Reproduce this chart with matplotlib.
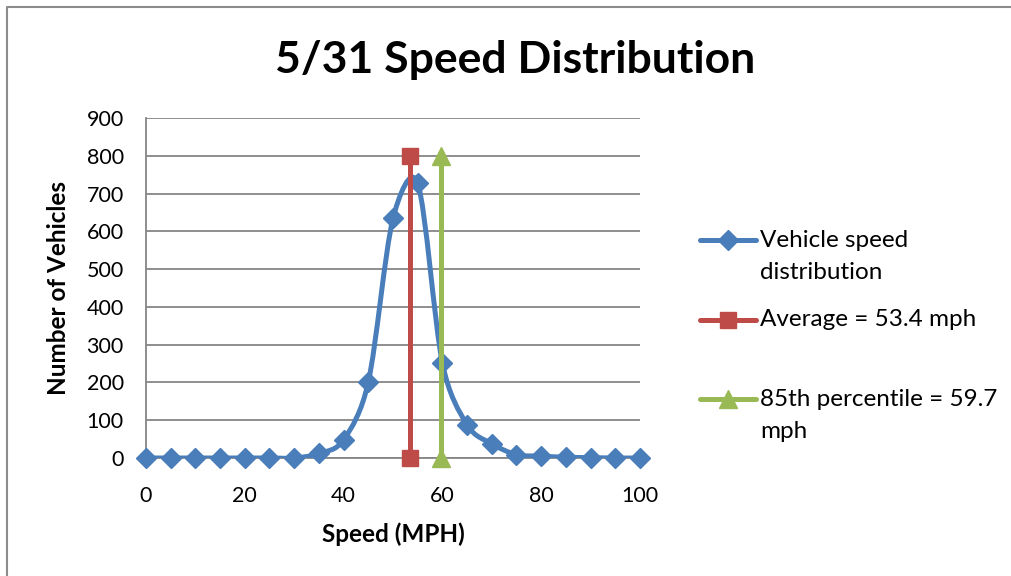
import math
import matplotlib
matplotlib.use("Agg")
from matplotlib import pyplot as plt
from matplotlib.path import Path
from matplotlib.patches import PathPatch
from matplotlib.lines import Line2D

plt.rcParams['font.family'] = ['Lato', 'DejaVu Sans']

speeds = [0, 5, 10, 15, 20, 25, 30, 35, 40, 45, 50, 55, 60, 65, 70, 75, 80, 85, 90, 95, 100]
vehicles = [0, 0, 0, 0, 0, 0, 0, 12, 48, 201, 634, 727, 251, 88, 38, 9, 5, 2, 1, 0, 0]
avg_x = [53.4, 53.4]
avg_y = [0, 800]
p85_x = [59.7, 59.7]
p85_y = [0, 800]
labels = ["Vehicle speed\ndistribution", "Average = 53.4 mph", "85th percentile = 59.7\nmph"]

BLUE = "#4A7EBB"
RED = "#BE4B48"
GREEN = "#98B954"
GRID = "#868686"


def smooth_path(ax, xs, ys):
    # bezier segments in screen space, control arms capped at half the
    # segment length (like the spreadsheet's "smoothed line")
    pts = [tuple(p) for p in ax.transData.transform(list(zip(xs, ys)))]
    n = len(pts)

    def dist(a, b):
        return math.hypot(b[0] - a[0], b[1] - a[1])

    verts = [pts[0]]
    codes = [Path.MOVETO]
    for i in range(n - 1):
        p0 = pts[max(i - 1, 0)]
        p1 = pts[i]
        p2 = pts[i + 1]
        p3 = pts[min(i + 2, n - 1)]
        d12 = dist(p1, p2)
        d02 = dist(p0, p2)
        d13 = dist(p1, p3)
        f0 = 1 / 6 if d02 / 6 <= d12 / 2 else d12 / (2 * d02)
        f1 = 1 / 6 if d13 / 6 <= d12 / 2 else d12 / (2 * d13)
        c1 = (p1[0] + (p2[0] - p0[0]) * f0, p1[1] + (p2[1] - p0[1]) * f0)
        c2 = (p2[0] - (p3[0] - p1[0]) * f1, p2[1] - (p3[1] - p1[1]) * f1)
        verts += [c1, c2, p2]
        codes += [Path.CURVE4] * 3
    verts = ax.transData.inverted().transform(verts)
    return Path(verts, codes)


fig = plt.figure(figsize=(10.12, 5.76), dpi=100)
ax = fig.add_axes([146 / 1012, 118 / 576, 494 / 1012, 340 / 576])
ax.set_xlim(0, 100)
ax.set_ylim(0, 900)

ax.add_patch(PathPatch(smooth_path(ax, speeds, vehicles), facecolor="none",
                       edgecolor=BLUE, lw=3.6, capstyle="round", zorder=3))
ax.plot(speeds, vehicles, ls="none", marker="D", ms=10, color=BLUE, zorder=4, clip_on=False)
ax.plot(avg_x, avg_y, color=RED, lw=3.6, marker="s", ms=12, zorder=5, clip_on=False)
ax.plot(p85_x, p85_y, color=GREEN, lw=3.6, marker="^", ms=13, zorder=5, clip_on=False)

ax.set_xticks(range(0, 101, 20))
ax.set_yticks(range(0, 901, 100))
ax.grid(axis="y", color=GRID, lw=1.3)
ax.set_axisbelow(True)
for s in ["top", "right"]:
    ax.spines[s].set_visible(False)
for s in ["left", "bottom"]:
    ax.spines[s].set_color(GRID)
    ax.spines[s].set_linewidth(1.3)
ax.tick_params(length=0, labelsize=15.5)
ax.tick_params(axis="y", pad=16)
ax.tick_params(axis="x", pad=20)

ax.set_xlabel("Speed (MPH)", fontsize=17.5, fontweight="bold", labelpad=12)
ax.set_ylabel("Number of Vehicles", fontsize=17.5, fontweight="bold", labelpad=12)
fig.text(515 / 1012, 1 - 60 / 576, "5/31 Speed Distribution", fontsize=32,
         fontweight="bold", ha="center", va="center")

# legend drawn by hand so the handles sit on the first text line
legend_rows = [(240, BLUE, "D", 10), (320, RED, "s", 12), (399, GREEN, "^", 13)]
for (ypx, col, mk, ms), lab in zip(legend_rows, labels):
    y = 1 - ypx / 576
    fig.add_artist(Line2D([700 / 1012, 756 / 1012], [y, y], color=col, lw=3.6,
                          solid_capstyle="round", transform=fig.transFigure))
    fig.add_artist(Line2D([728 / 1012], [y], color=col, marker=mk, ms=ms,
                          transform=fig.transFigure))
    for k, line in enumerate(lab.split("\n")):
        fig.text(760 / 1012, y - k * 32 / 576, line, fontsize=17.5, va="center", ha="left")

# chart frame (only top and left edges show in the crop)
fig.add_artist(Line2D([7 / 1012, 7 / 1012, 1.0], [0, 1 - 7 / 576, 1 - 7 / 576],
                      color="#8C8C8C", lw=1.5, transform=fig.transFigure))

fig.savefig("out.png", dpi=100)
